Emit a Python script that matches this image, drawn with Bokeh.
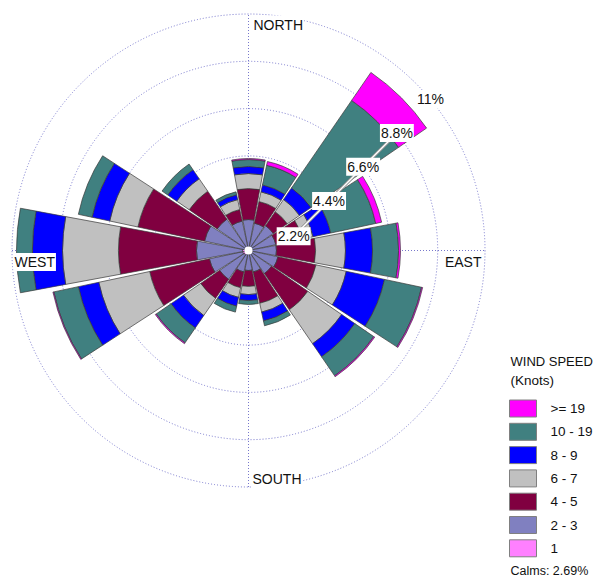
from bokeh.plotting import figure
from bokeh.models import ColumnDataSource, Label, Range1d
from bokeh.embed import file_html
from bokeh.resources import INLINE
import numpy as np

# ---------------- data ----------------
directions = ["N", "NNE", "NE", "ENE", "E", "ESE", "SE", "SSE",
              "S", "SSW", "SW", "WSW", "W", "WNW", "NW", "NNW"]
bearings = [0, 22.5, 45, 67.5, 90, 112.5, 135, 157.5,
            180, 202.5, 225, 247.5, 270, 292.5, 315, 337.5]

# frequency (%) of each speed class per direction (stacked from centre outwards)
f_1     = [0.15, 0.15, 0.15, 0.15, 0.15, 0.15, 0.15, 0.15, 0.15, 0.15, 0.25, 0.28, 0.28, 0.15, 0.15, 0.15]
f_2_3   = [1.29, 1.15, 1.25, 1.15, 1.15, 1.25, 1.15, 0.87, 0.78, 0.87, 1.38, 1.58, 2.14, 1.94, 1.62, 1.25]
f_4_5   = [1.44, 1.03, 0.79, 1.26, 1.82, 1.81, 2.05, 1.49, 0.74, 0.75, 1.07, 2.84, 3.63, 3.17, 1.58, 0.55]
f_6_7   = [0.70, 0.46, 0.69, 0.51, 1.39, 1.44, 1.91, 0.42, 0.38, 0.46, 0.97, 2.42, 2.60, 1.34, 0.70, 0.47]
f_8_9   = [0.33, 0.33, 0.65, 0.84, 1.26, 1.82, 0.74, 0.42, 0.28, 0.42, 0.70, 0.97, 1.40, 0.84, 0.51, 0.23]
f_10_19 = [0.32, 0.93, 4.94, 2.14, 1.21, 1.76, 1.07, 0.23, 0.18, 0.28, 0.84, 1.17, 0.74, 0.65, 0.32, 0.14]
f_ge_19 = [0.05, 0.18, 1.58, 0.28, 0.09, 0.05, 0.05, 0.00, 0.00, 0.00, 0.05, 0.04, 0.00, 0.00, 0.00, 0.00]

class_labels = ["1", "2 - 3", "4 - 5", "6 - 7", "8 - 9", "10 - 19", ">= 19"]
class_colors = ["#FF80FF", "#8080C0", "#800040", "#C0C0C0", "#0000FF", "#408080", "#FF00FF"]
class_values = [f_1, f_2_3, f_4_5, f_6_7, f_8_9, f_10_19, f_ge_19]

ring_values = [2.2, 4.4, 6.6, 8.8, 11.0]
ring_labels = ["2.2%", "4.4%", "6.6%", "8.8%", "11%"]
calms_text = "Calms: 2.69%"

# ---------------- layout helpers ----------------
W, H = 593, 579
CX, CY, S = 248.0, 250.0, 21.5   # centre pixel and pixels per percent
def dx(px):
    return (px - CX) / S
def dy(py):
    return (CY - py) / S

FONT = "Liberation Sans"
HALF = np.deg2rad(10.5)

p = figure(width=W, height=H, output_backend="svg", toolbar_location=None,
           x_range=Range1d(dx(0), dx(W)), y_range=Range1d(dy(H), dy(0)),
           x_axis_type=None, y_axis_type=None, min_border=0,
           outline_line_color=None, background_fill_color="white",
           border_fill_color="white")
p.grid.visible = False

grid_col = "#7878cc"
# grid circles
p.circle(x=[0] * len(ring_values), y=[0] * len(ring_values), radius=ring_values,
         fill_color=None, line_color=grid_col, line_dash="1 2", line_width=1)
R = ring_values[-1]
p.segment(x0=[0, -R], y0=[-R, 0], x1=[0, R], y1=[R, 0],
          line_color=grid_col, line_dash="1 2", line_width=1)

# ---------------- stacked wedges ----------------
inner, outer, start, end, color = [], [], [], [], []
for i, b in enumerate(bearings):
    cum = 0.0
    mid = np.deg2rad(90.0 - b)
    for vals, col in zip(class_values, class_colors):
        v = vals[i]
        if v <= 0:
            continue
        inner.append(cum)
        outer.append(cum + v)
        start.append(mid - HALF)
        end.append(mid + HALF)
        color.append(col)
        cum += v
src = ColumnDataSource(dict(inner=inner, outer=outer, start=start, end=end, color=color))
p.annular_wedge(x=0, y=0, inner_radius="inner", outer_radius="outer",
                start_angle="start", end_angle="end", source=src,
                fill_color="color", line_color="#3a3a3a", line_width=0.7)

# calm hole
p.circle(x=[0], y=[0], radius=[0.19], fill_color="white", line_color=None)

# ---------------- ring labels along diagonal ----------------
c = 31.0 / S
lx, ly = [], []
for r in ring_values:
    x = (c + np.sqrt(2 * r * r - c * c)) / 2.0
    lx.append(x)
    ly.append(x - c)
p.line(x=lx[:4], y=ly[:4], line_color="#909090", line_width=3)
p.line(x=lx[:4], y=ly[:4], line_color="white", line_width=1.4)
for x, y, t in zip(lx, ly, ring_labels):
    p.add_layout(Label(x=x, y=y, text=t, text_align="center", text_baseline="middle",
                       text_font=FONT, text_font_size="14px", text_color="#111111",
                       background_fill_color="white", padding=1))

# compass labels
def lab(px, py, t, align="left", size="14px", bg="white"):
    p.add_layout(Label(x=dx(px), y=dy(py), text=t, text_align=align, text_baseline="middle",
                       text_font=FONT, text_font_size=size, text_color="#111111",
                       background_fill_color=bg, padding=1))

lab(252, 24, "NORTH")
lab(13, 261.5, "WEST")
lab(482, 261.5, "EAST", align="right")
lab(251, 478.5, "SOUTH")

# ---------------- legend ----------------
lab(509, 361, "WIND SPEED", size="13px", bg=None)
lab(509, 380, "(Knots)", size="13.5px", bg=None)
leg_y0, leg_dy = 408.0, 23.3
sw_y = [dy(leg_y0 + k * leg_dy) for k in range(len(class_labels))]
p.rect(x=[dx(522.5)] * len(class_labels), y=sw_y, width=27 / S, height=17 / S,
       fill_color=class_colors[::-1], line_color="#808080", line_width=1)
for k, t in enumerate(class_labels[::-1]):
    lab(549, leg_y0 + k * leg_dy, t, size="13.5px", bg=None)
lab(509, 570, calms_text, size="12.5px", bg=None)

open("out.html", "w").write(file_html(p, INLINE))
